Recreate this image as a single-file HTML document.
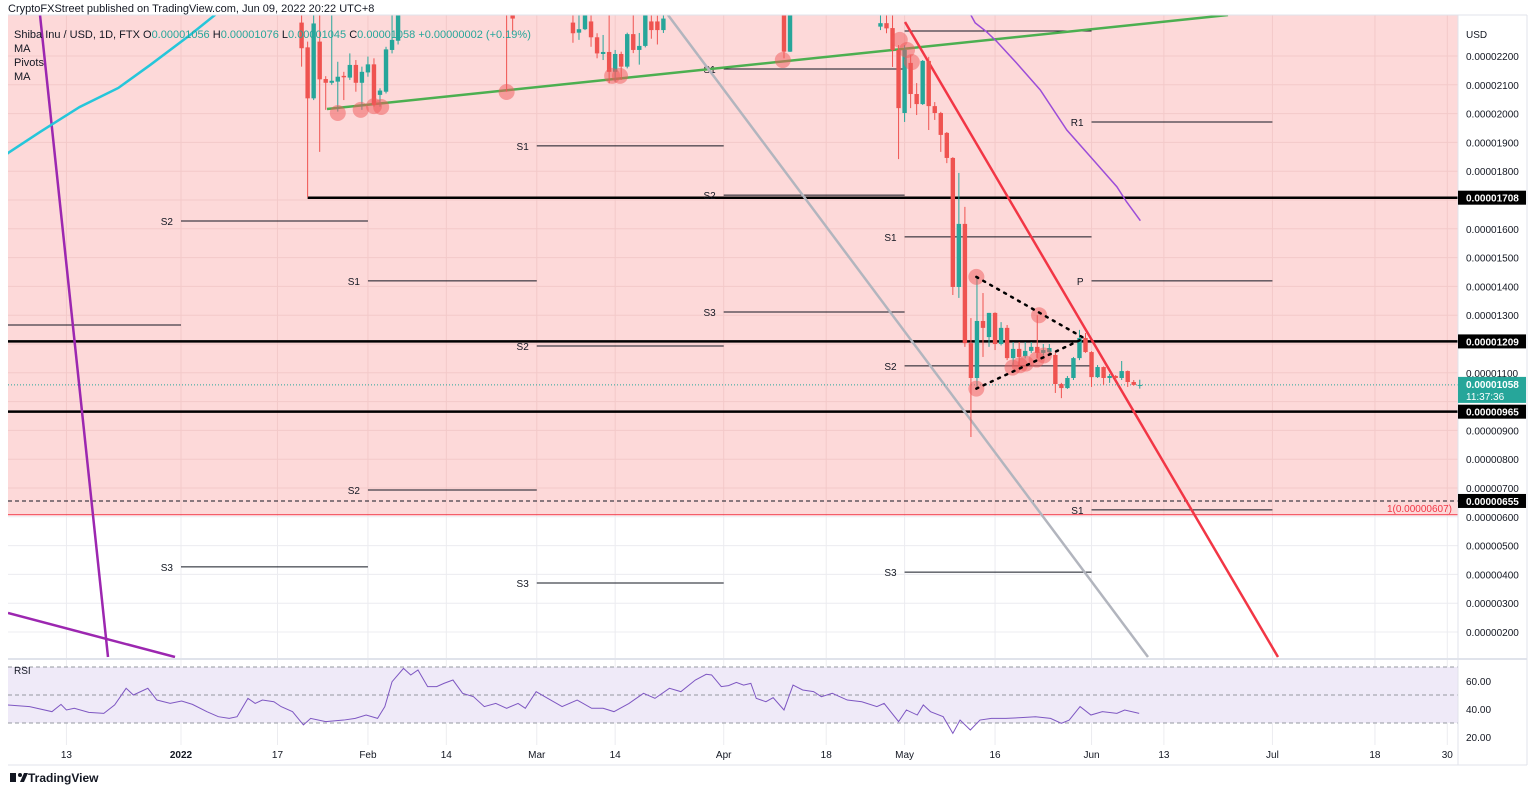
<!DOCTYPE html>
<html><head><meta charset="utf-8"><title>SHIB/USD chart</title>
<style>
html,body{margin:0;padding:0;background:#fff;}
svg{display:block;font-family:"Liberation Sans",sans-serif;}
</style></head>
<body>
<svg id="chart" width="1536" height="793" viewBox="0 0 1536 793" xmlns="http://www.w3.org/2000/svg">
<defs><clipPath id="mainClip"><rect x="8" y="15" width="1450" height="643"/></clipPath>
<clipPath id="rsiClip"><rect x="8" y="660" width="1450" height="85"/></clipPath></defs>
<rect x="0" y="0" width="1536" height="793" fill="#fff"/>
<text x="8" y="12" font-size="11" fill="#131722">CryptoFXStreet published on TradingView.com, Jun 09, 2022 20:22 UTC+8</text>
<g id="grid"></g>
<g id="bg"></g>
<g id="main" clip-path="url(#mainClip)"></g>
<g id="overlay"></g>
<g id="rsi"></g>
<g id="axes"></g>
<g font-size="11">
<text x="14" y="38" fill="#131722">Shiba Inu / USD, 1D, FTX  <tspan fill="#131722">O</tspan><tspan fill="#26a69a">0.00001056</tspan> <tspan fill="#131722">H</tspan><tspan fill="#26a69a">0.00001076</tspan> <tspan fill="#131722">L</tspan><tspan fill="#26a69a">0.00001045</tspan> <tspan fill="#131722">C</tspan><tspan fill="#26a69a">0.00001058 +0.00000002 (+0.19%)</tspan></text>
<text x="14" y="52" fill="#131722">MA</text>
<text x="14" y="66" fill="#131722">Pivots</text>
<text x="14" y="80" fill="#131722">MA</text>
</g>
<g>
<rect x="10" y="773" width="6" height="9" fill="#131722"/><circle cx="20" cy="775" r="2" fill="#131722"/><polygon points="20,782 24,773 28,773 24,782" fill="#131722"/>
<text x="28" y="782" font-size="12" font-weight="bold" fill="#131722">TradingView</text>
</g>
</svg>
<script>
// ---- data ----
const candleDays=[20,21,22,23,24,25,26,27,28,29,30,31,32,33,34,35,36,54,55,65,66,67,68,69,70,71,72,73,74,75,76,77,78,79,80,100,101,116,117,118,119,120,121,122,123,124,125,126,127,128,129,130,131,132,133,134,135,136,137,138,139,140,141,142,143,144,145,146,147,148,149,150,151,152,153,154,155,156,157,158,159];
const openP=[23.16,22.30,20.53,22.50,21.20,21.07,21.11,21.31,21.25,21.69,21.07,21.43,21.71,20.65,20.76,22.21,22.53,26,25,23.16,22.81,22.93,23.2,22.65,22.07,22.14,21.45,22.07,21.63,22.76,22.21,22.35,23.2,23.2,22.9,25,22.15,23.02,23.14,22.97,22.21,20.02,21.76,20.68,20.33,21.83,20.26,20.02,19.33,18.46,13.98,16.17,12.03,10.82,12.80,12.24,13.08,12.00,12.56,11.51,11.83,11.58,11.76,11.90,11.69,11.72,11.62,10.61,10.47,10.82,11.51,12.21,11.72,10.85,11.20,10.82,10.89,10.82,11.06,10.68,10.56];
const highP=[24,22.5,23.8,24,21.3,24,21.80,21.45,22.09,21.86,21.63,21.98,21.92,20.88,22.32,24,25,27,26,24,23.5,24,24,22.79,22.73,24,22.21,22.15,22.81,23.5,22.8,24,23.5,23.4,23.5,26,26,24,23.5,24,22.38,22.38,22.03,21.06,21.86,21.97,20.40,20.06,19.36,18.49,17.94,16.76,12.90,14.36,13.77,13.08,13.1,12.76,12.66,12.07,12.07,12.07,12.07,13.0,12.0,12.0,11.7,10.65,10.89,11.55,12.49,12.38,11.75,11.27,11.22,10.96,10.92,11.41,11.08,10.75,10.76];
const lowP=[21.63,17.10,20.47,18.67,20.13,21.0,20.07,20.47,21.17,20.76,20.13,21.28,20.24,20.24,20.70,22.09,22.4,20.76,22.84,22.46,22.56,22.9,22.32,21.92,21.86,21.05,21.11,21.17,21.57,22.1,21.7,22.3,22.6,22.4,22.8,21.92,22.14,22.9,22.79,21.62,18.42,19.71,20.19,19.95,20.30,19.43,19.78,18.67,18.28,13.70,13.60,11.90,8.77,10.51,11.55,11.90,11.79,11.95,11.44,11.27,11.20,11.5,11.69,11.51,11.6,11.65,10.30,10.12,10.44,10.75,11.44,11.69,10.51,10.82,10.58,10.65,10.75,10.75,10.51,10.55,10.45];
const closeP=[22.27,20.53,23.13,21.19,21.07,21.14,21.28,21.26,21.69,21.07,21.45,21.71,20.30,20.80,22.23,22.56,24.5,23.6,23.3,22.79,22.93,23.5,22.65,22.09,22.14,21.45,22.07,21.63,22.76,22.21,22.35,23.6,22.9,22.9,23.3,22.15,25,23.14,22.96,22.21,20.19,22.21,20.68,20.33,21.83,20.26,20.02,19.26,18.46,13.98,16.17,12.03,10.82,12.80,12.56,13.08,12.00,12.56,11.51,11.83,11.55,11.76,11.90,11.69,11.79,11.86,10.61,10.47,10.82,11.51,12.21,11.72,10.85,11.20,10.82,10.89,10.82,11.06,10.68,10.58,10.58];
const maFastDays=[-32,-28.7,-23.4,-16.8,-10.4,-5.1,1.5,5.6,8];
const maFastVals=[17.8,18.63,19.36,20.23,20.89,21.69,22.73,23.42,24];
const maSlowDays=[130,131.7,133.6,135.3,138.6,142.5,146.9,151.3,155.2,156.8,159.1];
const maSlowVals=[23.8,23.15,22.84,22.50,21.75,20.82,19.43,18.39,17.46,16.94,16.28];
const rsiDays=[-28.8,-25.1,-21.4,-19.9,-19.0,-17.7,-15.3,-12.8,-11.0,-9.1,-7.9,-5.5,-4.0,-1.8,0.1,1.9,4.3,6.2,8.0,9.3,11.1,12.3,13.5,15.4,16.6,18.5,20.3,21.5,24.0,27.0,28.9,30.7,32.6,33.8,35.0,36.9,38.1,39.3,40.9,42.4,43.6,45.1,46.7,48.5,50.3,52.2,54.0,55.9,57.1,58.9,60.8,63.2,65.7,68.1,70.0,71.8,74.3,76.7,78.6,81.0,82.9,85.3,87.1,88.0,89.6,90.8,92.1,93.3,94.5,95.4,97.0,98.2,100.0,101.5,103.1,104.9,106.2,108.0,110.5,112.9,115.4,116.6,119.0,120.3,122.1,123.1,124.3,126.4,128.0,129.2,130.9,132.5,134.4,136.8,139.3,141.7,144.2,146.0,147.3,149.1,150.9,152.8,155.2,156.5,158.9];
const rsiVals=[42.9,41.7,38.1,43.3,39.3,40.5,37.6,36.9,42.9,54.8,50.0,54.8,46.4,44.0,45.7,43.3,38.1,34.5,33.3,34.5,47.6,44.0,46.4,45.2,41.7,38.1,28.6,33.3,31.0,32.1,33.3,35.7,33.3,41.7,59.5,69.0,64.3,67.9,56.0,56.0,58.3,60.7,51.2,48.8,41.7,44.0,40.5,44.0,40.5,52.4,47.6,41.7,46.4,40.5,40.5,38.1,44.0,51.2,47.6,54.8,52.4,60.7,64.8,64.3,56.0,56.7,59.0,57.1,58.3,47.6,45.2,48.1,39.3,57.1,53.6,52.4,48.8,51.2,46.4,45.2,41.7,44.0,31.0,39.3,35.7,42.9,38.1,34.5,22.6,32.1,25.0,32.1,33.3,33.3,33.8,34.5,33.3,29.8,32.1,41.7,35.7,38.1,36.9,39.3,36.9];
const priceTicks=[22,21,20,19,18,16,15,14,13,11,9,8,7,6,5,4,3,2];
const gridPrices=[22,21,20,19,18,17,16,15,14,13,12,11,10,9,8,7,6,5,4,3,2];
const dateTickDays=[-19,0,16,31,44,59,72,90,107,120,135,151,163,181,198,210];
const dateTickLabels=["13","2022","17","Feb","14","Mar","14","Apr","18","May","16","Jun","13","Jul","18","30"];
const keyLevels=[17.08,12.09,9.65];
const keyLevelStartDays=[21,-29,-29];
// pivots: label, start day, end day, price
const pivotLabels=["S2","S1","","S2","S3","S1","S2","S3","S1","S2","S3","","S1","S2","S3","R1","P","S1"];
const pivotStart=[0,31,-29,31,0,59,59,59,90,90,90,120,120,120,120,151,151,151];
const pivotEnd=[31,59,0,59,31,90,90,90,120,120,120,151,151,151,151,181,181,181];
const pivotPrice=[16.27,14.19,12.66,6.93,4.26,18.88,11.93,3.70,21.55,17.17,13.11,22.87,15.72,11.24,4.08,19.71,14.19,6.24];
const touchDays=[26.0,29.8,32.0,33.2,54.0,71.5,72.8,99.8,119.2,120.4,121.2,131.9,142.3,131.9,137.9,139.1,140.1,141.9,143.1];
const touchPrices=[20.02,20.13,20.26,20.23,20.75,21.31,21.31,21.86,22.56,22.21,21.79,14.33,13.00,10.45,11.18,11.26,11.32,11.46,11.60];

// ---- scales ----
const X=d=>181+6.03*d;
const Y=p=>56+(22-p)*28.8;
const RY=v=>681+(60-v)*1.4;
const NS="http://www.w3.org/2000/svg";
function mk(tag,parent,attrs){const e=document.createElementNS(NS,tag);for(const k in attrs)e.setAttribute(k,attrs[k]);parent.appendChild(e);return e;}
const grid=document.getElementById('grid'),bg=document.getElementById('bg'),main=document.getElementById('main'),ov=document.getElementById('overlay'),rsi=document.getElementById('rsi'),axes=document.getElementById('axes');

// pink zone
let pz=mk('rect',bg,{x:8,y:15,width:1450,height:Y(6.07)-15,fill:'#fdd9d9'});

// grid
gridPrices.forEach(p=>{const l=mk('line',grid,{x1:8,x2:1458,y1:Y(p),y2:Y(p),stroke:'#ececf0','stroke-width':1});
});
dateTickDays.forEach(d=>{const l=mk('line',grid,{x1:X(d),x2:X(d),y1:15,y2:745,stroke:'#ececf0','stroke-width':1});
});
gridPrices.forEach(p=>{if(Y(p)<515){const l=mk('line',bg,{x1:8,x2:1458,y1:Y(p),y2:Y(p),stroke:'#f3c9c9','stroke-width':1});
}});
dateTickDays.forEach(d=>{const l=mk('line',bg,{x1:X(d),x2:X(d),y1:15,y2:515,stroke:'#f3c9c9','stroke-width':1});
});

// key horizontal levels
let rl=mk('line',main,{x1:8,x2:1458,y1:Y(6.07),y2:Y(6.07),stroke:'#f23645','stroke-width':1});

let dl=mk('line',main,{x1:8,x2:1458,y1:Y(6.55),y2:Y(6.55),stroke:'#131722','stroke-width':1,'stroke-dasharray':'4,3'});

keyLevels.forEach((p,i)=>{const l=mk('line',main,{x1:X(keyLevelStartDays[i]),x2:1458,y1:Y(p),y2:Y(p),stroke:'#000','stroke-width':2.5});
});

// pivots
pivotLabels.forEach((lab,i)=>{const y=Y(pivotPrice[i]);
const l=mk('line',main,{x1:X(pivotStart[i]),x2:X(pivotEnd[i]),y1:y,y2:y,stroke:'#131722','stroke-width':1});

if(lab){const t=mk('text',main,{x:X(pivotStart[i])-8,y:y+4,'font-size':10,'text-anchor':'end',fill:'#131722'});t.textContent=lab;
}});

// trend drawings
const drawings=[["green-trendline",327,109,1228,15,'#4caf50',2.5],["gray-channel-line",668,15,1148,657,'#b2b5be',2.5],["red-trendline",905,22,1278,657,'#f23645',2.5],["purple-steep-line",40,15,108,657,'#9c27b0',2.5],["purple-flat-line",8,613,175,657,'#9c27b0',2.5]];
drawings.forEach(d=>{const l=mk('line',main,{x1:d[1],y1:d[2],x2:d[3],y2:d[4],stroke:d[5],'stroke-width':d[6]});
});

// MAs
let pts=maFastDays.map((d,i)=>X(d)+','+Y(maFastVals[i])).join(' ');
let mf=mk('polyline',main,{points:pts,fill:'none',stroke:'#26c6da','stroke-width':2.5});

pts=maSlowDays.map((d,i)=>X(d)+','+Y(maSlowVals[i])).join(' ');
let ms=mk('polyline',main,{points:pts,fill:'none',stroke:'#9c4dd8','stroke-width':1.5});


// current price line
let cp=mk('line',main,{x1:8,x2:1458,y1:Y(closeP[closeP.length-1]),y2:Y(closeP[closeP.length-1]),stroke:'#26a69a','stroke-width':1,'stroke-dasharray':'1,2'});


// candles
candleDays.forEach((d,i)=>{const up=closeP[i]>=openP[i];const c=up?'#26a69a':'#ef5350';const x=X(d);
const w=mk('line',main,{x1:x,x2:x,y1:Y(highP[i]),y2:Y(lowP[i]),stroke:c,'stroke-width':1});

const t=Y(Math.max(openP[i],closeP[i])),b=Y(Math.min(openP[i],closeP[i]));
const r=mk('rect',main,{x:x-2.2,y:t,width:4.4,height:Math.max(1,b-t),fill:c});
});

// touch circles
touchDays.forEach((d,i)=>{const c=mk('circle',main,{cx:X(d),cy:Y(touchPrices[i]),r:8,fill:'#f05a5a','fill-opacity':0.5});
});
// dotted triangle
[[131.9,14.33,149.8,12.2],[131.9,10.45,149.8,12.2]].forEach(s=>{const l=mk('line',main,{x1:X(s[0]),y1:Y(s[1]),x2:X(s[2]),y2:Y(s[3]),stroke:'#000','stroke-width':2.5,'stroke-dasharray':'2,6','stroke-linecap':'round'});
});

// fib label
let ft=mk('text',ov,{x:1452,y:Y(6.07)-3,'font-size':10,'text-anchor':'end',fill:'#f23645'});ft.textContent='1(0.00000607)';


// price axis
let ab=mk('line',axes,{x1:1458,x2:1458,y1:15,y2:765,stroke:'#e0e3eb'});
let ab2=mk('line',axes,{x1:1527,x2:1527,y1:15,y2:765,stroke:'#e0e3eb'});
let ab3=mk('line',axes,{x1:8,x2:1527,y1:765,y2:765,stroke:'#e0e3eb'});
let ab4=mk('line',axes,{x1:8,x2:1527,y1:15,y2:15,stroke:'#e0e3eb'});
let usd=mk('text',axes,{x:1466,y:38,'font-size':10,fill:'#131722'});usd.textContent='USD';
priceTicks.forEach(p=>{const t=mk('text',axes,{x:1466,y:Y(p)+4,'font-size':10,fill:'#131722'});t.textContent=(p/1e6).toFixed(8);
});
[17.08,12.09,9.65,6.55].forEach(p=>{const r=mk('rect',axes,{x:1458,y:Y(p)-7,width:68,height:14,fill:'#000'});
const t=mk('text',axes,{x:1466,y:Y(p)+4,'font-size':10,'font-weight':'bold',fill:'#fff'});t.textContent=(p/1e6).toFixed(8);});
const lastC=closeP[closeP.length-1];
let cr=mk('rect',axes,{x:1458,y:Y(lastC)-8,width:68,height:26,fill:'#26a69a'});
let ct=mk('text',axes,{x:1466,y:Y(lastC)+3,'font-size':10,'font-weight':'bold',fill:'#fff'});ct.textContent=(lastC/1e6).toFixed(8);
let cd=mk('text',axes,{x:1466,y:Y(lastC)+15,'font-size':10,fill:'#fff'});cd.textContent='11:37:36';

// date axis
dateTickDays.forEach((d,i)=>{const t=mk('text',axes,{x:X(d),y:758,'font-size':10,'text-anchor':'middle',fill:'#131722','font-weight':dateTickLabels[i]==='2022'?'bold':'normal'});t.textContent=dateTickLabels[i];
});

// RSI pane
let sep=mk('line',rsi,{x1:8,x2:1527,y1:659,y2:659,stroke:'#e0e3eb','stroke-width':2});
let band=mk('rect',rsi,{x:8,y:RY(70),width:1450,height:RY(30)-RY(70),fill:'#efeaf8'});
[70,50,30].forEach(v=>{const l=mk('line',rsi,{x1:8,x2:1458,y1:RY(v),y2:RY(v),stroke:'#9598a1','stroke-dasharray':'4,3','stroke-width':1});
});
pts=rsiDays.map((d,i)=>X(d)+','+RY(rsiVals[i])).join(' ');
let rl2=mk('polyline',rsi,{points:pts,fill:'none',stroke:'#7e57c2','stroke-width':1,'clip-path':'url(#rsiClip)'});

let rt=mk('text',rsi,{x:14,y:674,'font-size':10,fill:'#131722'});rt.textContent='RSI';
[60,40,20].forEach(v=>{const t=mk('text',rsi,{x:1466,y:RY(v)+4,'font-size':10,fill:'#131722'});t.textContent=v.toFixed(2);
});
</script>
</body></html>
